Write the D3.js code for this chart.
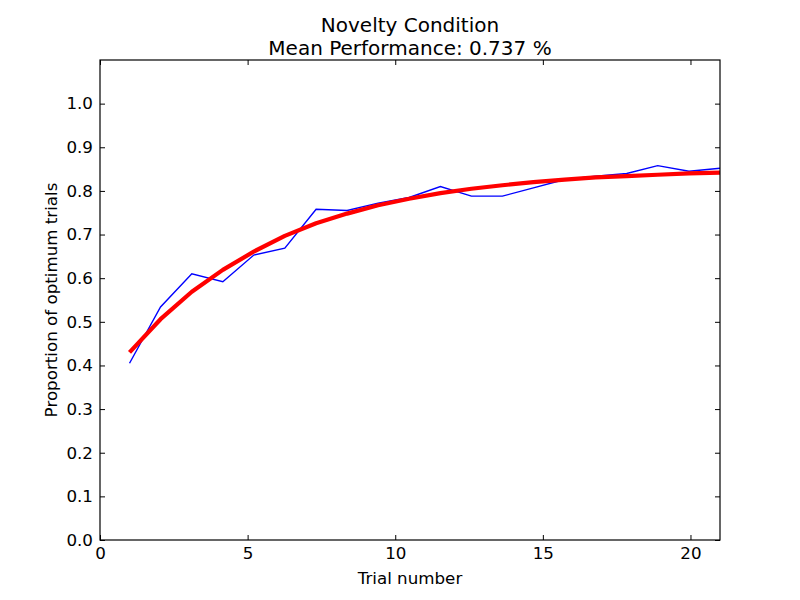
<!DOCTYPE html>
<html>
<head>
<meta charset="utf-8">
<script src="https://cdn.jsdelivr.net/npm/d3@7"></script>
<style>
  body { margin: 0; background: #fff; }
  text { font-family: "DejaVu Sans", sans-serif; fill: #000; }
</style>
</head>
<body>
<div id="chart"></div>
<script>
// trial positions (20 samples between 1 and 21)
const trials = [1, 2.05, 3.11, 4.16, 5.21, 6.26, 7.32, 8.37, 9.42, 10.47,
  11.53, 12.58, 13.63, 14.68, 15.74, 16.79, 17.84, 18.89, 19.95, 21];

// observed proportion of optimum trials
const observed = [0.405, 0.534, 0.610, 0.592, 0.653, 0.669, 0.758, 0.755, 0.772, 0.785,
  0.810, 0.788, 0.788, 0.807, 0.826, 0.834, 0.840, 0.858, 0.845, 0.852];

// fitted curve
const fitted = [0.430, 0.506, 0.569, 0.619, 0.661, 0.697, 0.726, 0.748, 0.767, 0.782,
  0.795, 0.805, 0.813, 0.820, 0.826, 0.831, 0.834, 0.837, 0.840, 0.842];

const xTicks = [0, 5, 10, 15, 20];
const yTicks = [0, 0.1, 0.2, 0.3, 0.4, 0.5, 0.6, 0.7, 0.8, 0.9, 1.0];

const titleLines = ["Novelty Condition", "Mean Performance: 0.737 %"];

const width = 800;
const height = 600;
const plotLeft = 100, plotRight = 720, plotTop = 60, plotBottom = 540;
const tickLen = 5;

const svg = d3.select("#chart")
  .append("svg")
  .attr("width", width)
  .attr("height", height);

const x = d3.scaleLinear().domain([0, 21]).range([plotLeft, plotRight]);
const y = d3.scaleLinear().domain([0, 1.1]).range([plotBottom, plotTop]);

// lines
const line = (vals) => d3.line()
  .x((d, i) => x(trials[i]))
  .y((d) => y(d))(vals);

const plot = svg.append("g");

plot.append("path")
  .attr("d", line(observed))
  .attr("fill", "none")
  .attr("stroke", "#0000ff")
  .attr("stroke-width", 1.4);

plot.append("path")
  .attr("d", line(fitted))
  .attr("fill", "none")
  .attr("stroke", "#ff0000")
  .attr("stroke-width", 4.2)
  .attr("stroke-linejoin", "round");

// frame
svg.append("rect")
  .attr("x", plotLeft)
  .attr("y", plotTop)
  .attr("width", plotRight - plotLeft)
  .attr("height", plotBottom - plotTop)
  .attr("fill", "none")
  .attr("stroke", "#000")
  .attr("stroke-width", 1.2);

// inward ticks on all four sides
const axisBottom = d3.axisBottom(x).tickValues(xTicks).tickSize(-tickLen)
  .tickPadding(7).tickFormat(d3.format("d"));
const axisTop = d3.axisTop(x).tickValues(xTicks).tickSize(-tickLen).tickFormat("");
const axisLeft = d3.axisLeft(y).tickValues(yTicks).tickSize(-tickLen)
  .tickPadding(7).tickFormat(d3.format(".1f"));
const axisRight = d3.axisRight(y).tickValues(yTicks).tickSize(-tickLen).tickFormat("");

function styleAxis(g) {
  g.select(".domain").remove();
  g.selectAll(".tick line").attr("stroke", "#000").attr("stroke-width", 1);
  g.selectAll(".tick text")
    .attr("font-family", "DejaVu Sans")
    .attr("font-size", 16.7)
    .attr("fill", "#000");
}

svg.append("g").attr("transform", `translate(0,${plotBottom})`).call(axisBottom).call(styleAxis)
  .selectAll(".tick text").attr("dy", "0.72em");
svg.append("g").attr("transform", `translate(0,${plotTop})`).call(axisTop).call(styleAxis);
svg.append("g").attr("transform", `translate(${plotLeft},0)`).call(axisLeft).call(styleAxis);
svg.append("g").attr("transform", `translate(${plotRight},0)`).call(axisRight).call(styleAxis);

// labels
svg.append("text")
  .attr("x", (plotLeft + plotRight) / 2)
  .attr("y", 584)
  .attr("text-anchor", "middle")
  .attr("font-size", 16.7)
  .text("Trial number");

svg.append("text")
  .attr("transform", `translate(57,${(plotTop + plotBottom) / 2}) rotate(-90)`)
  .attr("text-anchor", "middle")
  .attr("font-size", 16.7)
  .text("Proportion of optimum trials");

svg.append("g")
  .selectAll("text")
  .data(titleLines)
  .join("text")
  .attr("x", (plotLeft + plotRight) / 2)
  .attr("y", (d, i) => 32 + i * 23)
  .attr("text-anchor", "middle")
  .attr("font-size", 20)
  .text((d) => d);
</script>
</body>
</html>
